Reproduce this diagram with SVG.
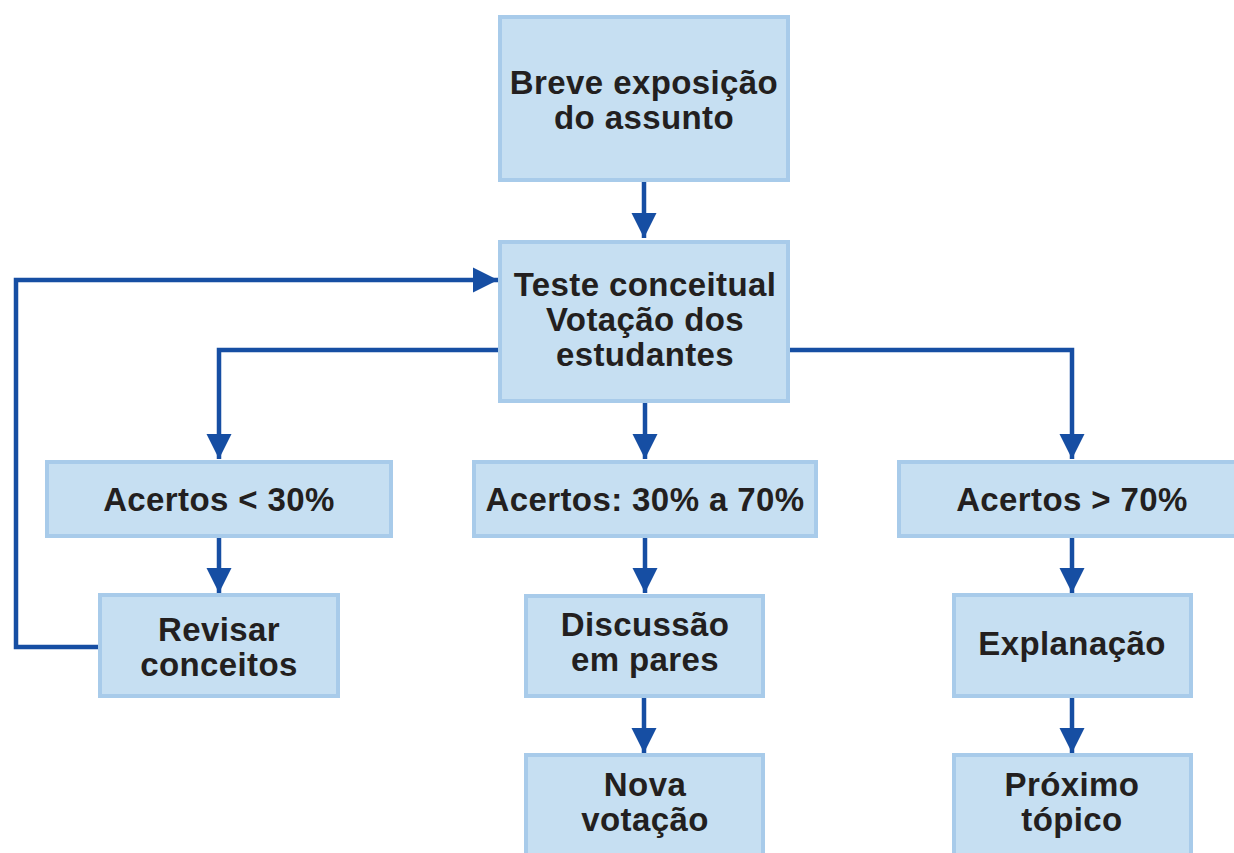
<svg xmlns="http://www.w3.org/2000/svg" width="1234" height="853" viewBox="0 0 1234 853">
<defs>
<marker id="ah" markerUnits="userSpaceOnUse" markerWidth="28" markerHeight="28" viewBox="0 0 28 28" refX="25" refY="14" orient="auto">
<path d="M0,1.5 L25,14 L0,26.5 Z" fill="#164ea3"/>
</marker>
<style>
.box{fill:#c6dff2;stroke:#a8cbea;stroke-width:4}
.t{font-family:"Liberation Sans",Arial,sans-serif;font-weight:bold;font-size:33px;fill:#231f20;text-anchor:middle;letter-spacing:0.4px}
.c{fill:none;stroke:#164ea3;stroke-width:4.5;marker-end:url(#ah)}
</style>
</defs>
<rect width="1234" height="853" fill="#ffffff"/>
<g id="connectors">
<path class="c" d="M644,182 V238"/>
<path class="c" d="M498,350 H219 V459"/>
<path class="c" d="M645,403 V459"/>
<path class="c" d="M790,350 H1072 V459"/>
<path class="c" d="M219,538 V593"/>
<path class="c" d="M98,647 H16 V280 H498"/>
<path class="c" d="M645,538 V593"/>
<path class="c" d="M644,698 V753"/>
<path class="c" d="M1072,538 V593"/>
<path class="c" d="M1072,698 V753"/>
</g>
<g id="n-exposicao">
<rect class="box" x="500" y="17" width="288" height="163"/>
<text class="t" x="644" y="94">Breve exposição</text>
<text class="t" x="644" y="129">do assunto</text>
</g>
<g id="n-teste">
<rect class="box" x="500" y="242" width="288" height="159"/>
<text class="t" x="645" y="296">Teste conceitual</text>
<text class="t" x="645" y="331">Votação dos</text>
<text class="t" x="645" y="366">estudantes</text>
</g>
<g id="n-menos30">
<rect class="box" x="47" y="462" width="344" height="74"/>
<text class="t" x="219" y="511">Acertos &lt; 30%</text>
</g>
<g id="n-30a70">
<rect class="box" x="474" y="462" width="342" height="74"/>
<text class="t" x="645" y="511">Acertos: 30% a 70%</text>
</g>
<g id="n-mais70">
<rect class="box" x="899" y="462" width="340" height="74"/>
<text class="t" x="1072" y="511">Acertos &gt; 70%</text>
</g>
<g id="n-revisar">
<rect class="box" x="100" y="595" width="238" height="101"/>
<text class="t" x="219" y="641">Revisar</text>
<text class="t" x="219" y="676">conceitos</text>
</g>
<g id="n-discussao">
<rect class="box" x="526" y="596" width="237" height="100"/>
<text class="t" x="645" y="636">Discussão</text>
<text class="t" x="645" y="671">em pares</text>
</g>
<g id="n-explanacao">
<rect class="box" x="954" y="595" width="237" height="101"/>
<text class="t" x="1072" y="655">Explanação</text>
</g>
<g id="n-nova">
<rect class="box" x="526" y="755" width="237" height="110"/>
<text class="t" x="645" y="796">Nova</text>
<text class="t" x="645" y="831">votação</text>
</g>
<g id="n-proximo">
<rect class="box" x="954" y="755" width="237" height="110"/>
<text class="t" x="1072" y="796">Próximo</text>
<text class="t" x="1072" y="831">tópico</text>
</g>
</svg>
